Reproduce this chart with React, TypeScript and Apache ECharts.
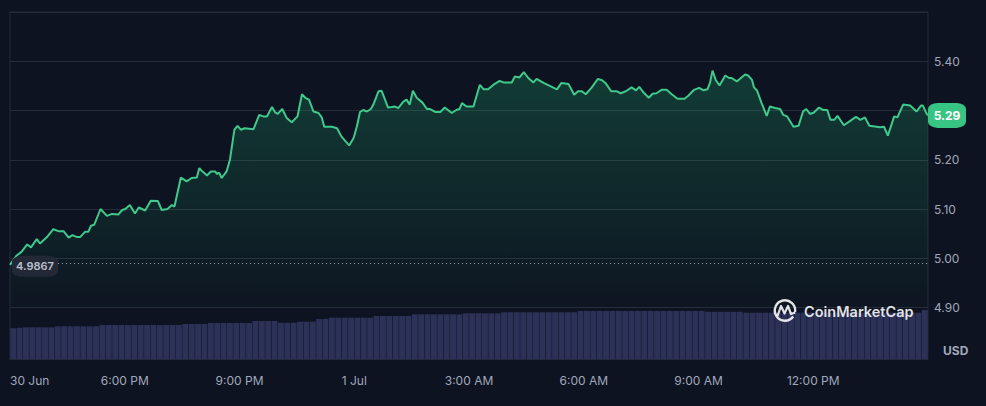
import React, { useEffect, useRef } from "react";
import * as echarts from "echarts";

// minutes since 30 Jun 3:00 PM
const times = [0,10,18,27,33,42,47,58,68,76,84,92,98,105,110,118,123,127,132,142,152,160,170,176,181,188,196,202,212,221,232,238,247,254,258,268,277,285,293,297,302,309,315,322,325,328,332,340,345,352,357,362,368,382,391,397,403,411,416,420,427,434,442,451,458,464,469,476,484,489,493,505,513,520,532,539,544,549,554,560,566,570,578,583,593,599,604,609,617,622,627,632,638,647,654,659,667,675,682,693,700,705,709,716,727,737,743,750,758,768,774,787,792,799,806,813,821,826,837,858,865,876,885,891,897,903,912,922,928,934,943,952,958,966,975,982,987,995,1002,1008,1014,1022,1030,1038,1047,1058,1064,1073,1081,1088,1094,1098,1102,1107,1113,1122,1128,1132,1140,1153,1158,1164,1167,1172,1179,1187,1192,1200,1208,1213,1219,1229,1237,1244,1249,1255,1261,1269,1276,1282,1287,1293,1298,1308,1318,1327,1334,1341,1348,1365,1371,1377,1387,1392,1401,1412,1422,1429,1432,1438,1440];
const prices = [4.9867,5.005,5.013,5.028,5.022,5.039,5.030,5.043,5.059,5.055,5.055,5.042,5.047,5.043,5.043,5.054,5.054,5.066,5.068,5.100,5.086,5.090,5.089,5.098,5.100,5.108,5.091,5.103,5.097,5.117,5.116,5.098,5.100,5.108,5.105,5.164,5.156,5.163,5.164,5.183,5.176,5.168,5.176,5.176,5.171,5.174,5.163,5.177,5.200,5.261,5.269,5.261,5.264,5.262,5.291,5.288,5.288,5.307,5.296,5.293,5.303,5.285,5.276,5.288,5.333,5.325,5.322,5.298,5.295,5.286,5.267,5.267,5.264,5.247,5.229,5.244,5.267,5.297,5.301,5.298,5.303,5.312,5.339,5.340,5.306,5.307,5.308,5.305,5.318,5.322,5.312,5.340,5.326,5.316,5.303,5.303,5.297,5.297,5.306,5.295,5.301,5.303,5.315,5.308,5.308,5.352,5.343,5.343,5.352,5.360,5.357,5.357,5.369,5.367,5.378,5.366,5.357,5.364,5.356,5.343,5.356,5.354,5.332,5.339,5.339,5.333,5.346,5.364,5.362,5.356,5.339,5.339,5.335,5.339,5.347,5.341,5.348,5.335,5.326,5.334,5.335,5.342,5.342,5.333,5.324,5.324,5.330,5.342,5.346,5.341,5.343,5.356,5.381,5.362,5.351,5.371,5.366,5.366,5.359,5.373,5.371,5.362,5.347,5.340,5.315,5.289,5.308,5.305,5.303,5.291,5.288,5.267,5.269,5.298,5.303,5.293,5.296,5.306,5.301,5.301,5.281,5.281,5.289,5.270,5.279,5.287,5.281,5.286,5.269,5.266,5.267,5.249,5.288,5.286,5.312,5.310,5.298,5.310,5.310,5.293,5.290];

// 10-minute volume bars (arbitrary units, $M)
const volumes = [
  53.6,54.5,55.3,55.3,55.3,55.3,55.3,57.0,57.0,57.0,57.0,57.0,57.0,57.0,
  59.3,59.3,59.3,59.3,59.3,59.3,59.3,59.3,59.3,59.3,59.3,59.3,59.3,
  61.0,61.0,61.0,61.0,62.7,62.7,62.7,62.7,62.7,62.7,62.7,
  66.2,66.2,66.2,66.2,63.2,63.2,63.2,65.0,65.0,65.0,69.6,69.6,
  71.9,71.9,71.9,71.9,71.9,71.9,71.9,74.8,74.8,74.8,74.8,74.8,74.8,
  77.7,77.7,77.7,77.7,77.7,77.7,77.7,77.7,79.5,79.5,79.5,79.5,79.5,79.5,
  81.2,81.2,81.2,81.2,81.2,81.2,81.2,81.2,81.2,81.2,81.2,81.2,
  83.4,83.4,83.4,83.4,83.4,83.4,83.4,83.4,83.4,83.4,83.4,83.4,83.4,83.4,83.4,83.4,83.4,83.4,83.4,83.4,
  82.2,82.2,82.2,82.2,82.2,82.2,
  80.5,80.5,80.5,80.5,80.5,80.5,80.5,80.5,80.5,80.5,80.5,80.5,80.5,80.5,
  80.5,80.5,80.5,80.5,80.5,80.5,80.5,80.5,80.5,80.5,80.5,80.5,80.5,80.5,
  85.2,
];

const xTickLabels: Record<number, string> = {
  0: "30 Jun", 180: "6:00 PM", 360: "9:00 PM", 540: "1 Jul",
  720: "3:00 AM", 900: "6:00 AM", 1080: "9:00 AM", 1260: "12:00 PM", 1440: "",
};

const openPrice = 4.9867;
const lastPrice = 5.29;

const FONT = "Inter, 'Noto Sans', sans-serif";
const WM = "rgba(255,255,255,0.88)";

export default function App() {
  const ref = useRef<HTMLDivElement>(null);
  useEffect(() => {
    if (!ref.current) return;
    const chart = echarts.init(ref.current, null, { renderer: "svg" });
    const priceData = times.map((t, i) => [t, prices[i]]);
    const volData = volumes.map((v, i) => [i * 10 + 5, v]);
    chart.setOption({
      animation: false,
      backgroundColor: "#0d1320",
      textStyle: { fontFamily: FONT },
      grid: [
        { left: 10, right: 58, top: 12, bottom: 98.5 },
        { left: 10, right: 58, top: 12, bottom: 46.7, show: true, borderColor: "#262b38", borderWidth: 1 },
      ],
      xAxis: [
        { type: "value", gridIndex: 0, min: 0, max: 1440, show: false },
        {
          type: "value", gridIndex: 1, min: 0, max: 1440, interval: 180,
          axisLine: { show: false }, axisTick: { show: false }, splitLine: { show: false },
          axisLabel: {
            color: "#a1a7bb", fontSize: 12, margin: 15, fontFamily: FONT,
            alignMinLabel: "left",
            formatter: (v: number) => xTickLabels[v] ?? "",
          },
        },
      ],
      yAxis: [
        {
          type: "value", gridIndex: 0, position: "right", min: 4.9, max: 5.5, interval: 0.1,
          axisLine: { show: false }, axisTick: { show: false },
          splitLine: { lineStyle: { color: "#262b38", width: 1 } },
          axisLabel: {
            color: "#a1a7bb", fontSize: 12, margin: 6, fontFamily: FONT,
            showMaxLabel: false,
            // the 5.30 label sits under the last-price badge
            formatter: (v: number) => (Math.abs(v - lastPrice) < 0.05 ? "" : v.toFixed(2)),
          },
        },
        { type: "value", gridIndex: 1, min: 0, max: 600, show: false },
      ],
      series: [
        {
          type: "bar", xAxisIndex: 1, yAxisIndex: 1, data: volData,
          barWidth: 5.9, itemStyle: { color: "#2c3157" }, silent: true, z: 1,
        },
        {
          type: "line", xAxisIndex: 0, yAxisIndex: 0, data: priceData,
          showSymbol: false, symbol: "none", z: 3,
          lineStyle: { color: "#3fc98b", width: 2 },
          areaStyle: {
            color: new echarts.graphic.LinearGradient(0, 0, 0, 1, [
              { offset: 0, color: "rgba(34,190,122,0.34)" },
              { offset: 1, color: "rgba(34,190,122,0.02)" },
            ]),
          },
          markLine: {
            silent: true, symbol: ["none", "none"],
            label: { show: false },
            lineStyle: { color: "#9ea3b0", type: [1, 3], width: 1 },
            data: [{ yAxis: openPrice }],
          },
          markPoint: {
            silent: true,
            data: [
              {
                coord: [0, openPrice], symbol: "roundRect", symbolSize: [46, 21], symbolOffset: [25, 1.5],
                itemStyle: { color: "#232837" },
                label: { show: true, formatter: openPrice.toFixed(4), color: "#bcc1cd", fontSize: 11, fontWeight: 600, fontFamily: FONT },
              },
              {
                coord: [1440, lastPrice], symbol: "roundRect", symbolSize: [38, 25], symbolOffset: [19, 0],
                itemStyle: { color: "#38c483" },
                label: { show: true, formatter: lastPrice.toFixed(2), color: "#ffffff", fontSize: 12, fontWeight: 700, fontFamily: FONT },
              },
            ],
          },
        },
      ],
      graphic: [
        {
          type: "text", left: 943, top: 344, z: 100,
          style: { text: "USD", fill: "#a1a7bb", font: `700 12px ${FONT}` },
        },
        {
          type: "arc", z: 100,
          shape: { cx: 785, cy: 310.5, r: 10.2, startAngle: Math.PI * 0.2, endAngle: Math.PI * 0.05, clockwise: true },
          style: { stroke: WM, lineWidth: 2.4, fill: "none" },
        },
        {
          type: "polyline", z: 100,
          shape: { points: [[777.5, 316], [781, 306], [784.5, 313.5], [788, 306], [791, 314], [795.2, 312.5]] },
          style: { stroke: WM, lineWidth: 2.2, fill: "none", lineJoin: "round" },
        },
        {
          type: "text", x: 804, y: 311, z: 100,
          style: { text: "CoinMarketCap", fill: WM, font: `600 14.5px ${FONT}`, verticalAlign: "middle" },
        },
      ],
    });
    return () => chart.dispose();
  }, []);
  return <div ref={ref} style={{ width: 986, height: 406, position: "absolute", left: 0, top: 0 }} />;
}
